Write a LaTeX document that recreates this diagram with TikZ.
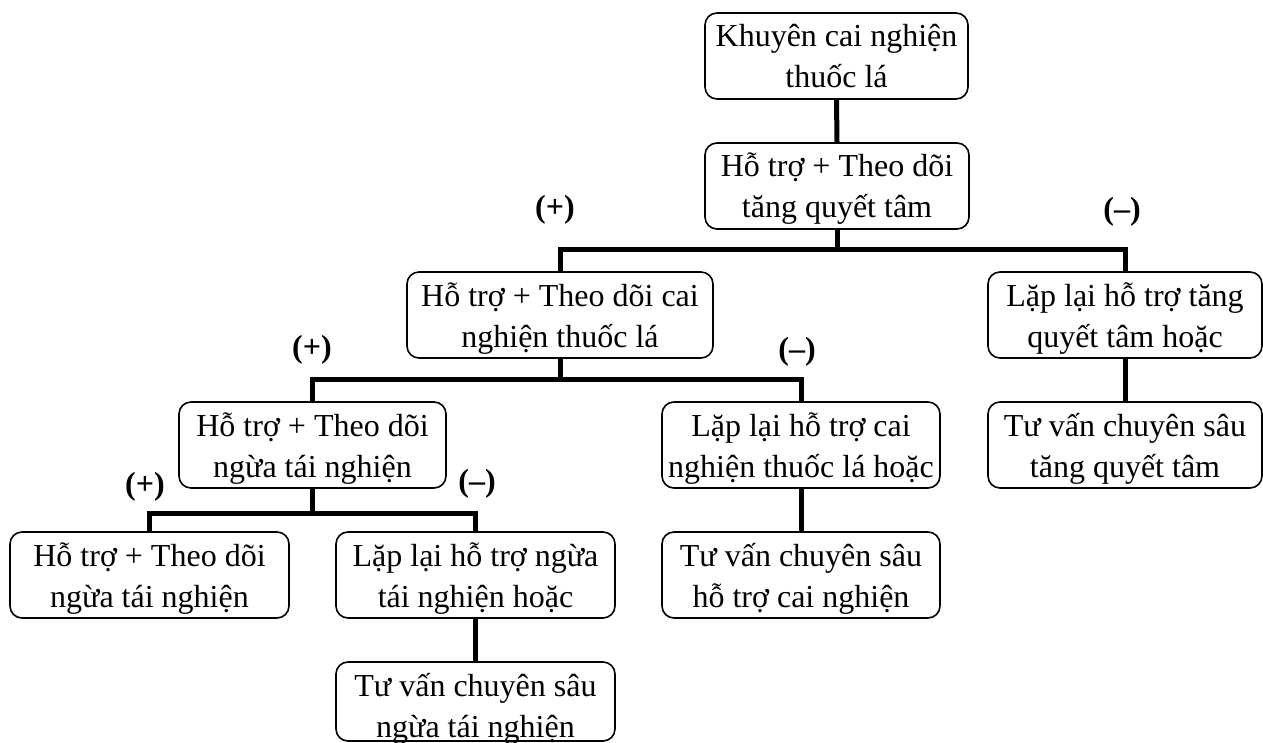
\documentclass[tikz,border=0pt]{standalone}
\usepackage{fontspec}
\setmainfont{Liberation Serif}
\newcommand\twoline[2]{\vtop{\baselineskip=41pt\lineskiplimit=0pt\halign{\hfil##\hfil\cr#1\cr#2\cr}}}
\begin{document}
\begin{tikzpicture}[x=1pt,y=-1pt,
  box/.style={draw, line width=1.6pt, rounded corners=12pt, inner xsep=0pt, inner ysep=0pt,
    minimum height=86pt, text height=34pt, text depth=52pt,
    font=\fontsize{32pt}{41pt}\selectfont},
  conn/.style={line width=5pt, line join=miter},
  sign/.style={inner sep=0pt, font=\fontsize{32pt}{41pt}\selectfont\bfseries}]
\useasboundingbox (0,0) rectangle (1263,743);
% boxes
\node[box, minimum width=263pt] (B1) at (836.5,56) {\twoline{Khuyên cai nghiện}{thuốc lá}};
\node[box, minimum width=264pt] (B2) at (837,186) {\twoline{Hỗ trợ + Theo dõi}{tăng quyết tâm}};
\node[box, minimum width=306pt] (B3) at (560,315) {\twoline{Hỗ trợ + Theo dõi cai}{nghiện thuốc lá}};
\node[box, minimum width=274pt] (B4) at (1125,315) {\twoline{Lặp lại hỗ trợ tăng}{quyết tâm hoặc}};
\node[box, minimum width=274pt] (B5) at (1125,445) {\twoline{Tư vấn chuyên sâu}{tăng quyết tâm}};
\node[box, minimum width=267pt] (B6) at (312.5,445) {\twoline{Hỗ trợ + Theo dõi}{ngừa tái nghiện}};
\node[box, minimum width=278pt] (B7) at (801,445) {\twoline{Lặp lại hỗ trợ cai}{nghiện thuốc lá hoặc}};
\node[box, minimum width=279pt] (B8) at (149.5,575) {\twoline{Hỗ trợ + Theo dõi}{ngừa tái nghiện}};
\node[box, minimum width=279pt] (B9) at (475.5,575) {\twoline{Lặp lại hỗ trợ ngừa}{tái nghiện hoặc}};
\node[box, minimum width=278pt] (B11) at (801,575) {\twoline{Tư vấn chuyên sâu}{hỗ trợ cai nghiện}};
\node[box, minimum width=279pt, minimum height=79pt, text depth=45pt] (B10) at (475.5,701.5) {\twoline{Tư vấn chuyên sâu}{ngừa tái nghiện}};
% junctions
\coordinate (j1) at (837,250);
\coordinate (j2) at (560,379);
\coordinate (j3) at (312.5,513);
% connectors
\draw[conn] (B1.south) -- (B2.north);
\draw[conn] (B2.south) -- (j1);
\draw[conn] (B3.north) |- (j1) -| (B4.north);
\draw[conn] (B4.south) -- (B5.north);
\draw[conn] (B3.south) -- (j2);
\draw[conn] (B6.north) |- (j2) -| (B7.north);
\draw[conn] (B7.south) -- (B11.north);
\draw[conn] (B6.south) -- (j3);
\draw[conn] (B8.north) |- (j3) -| (B9.north);
\draw[conn] (B9.south) -- (B10.north);
% signs
\node[sign] (s1) at (555,210) {(+)};
\node[sign] (s2) at (1122,212) {(–)};
\node[sign] (s3) at (312,350) {(+)};
\node[sign] (s4) at (797,352) {(–)};
\node[sign] (s5) at (145,487) {(+)};
\node[sign] (s6) at (477,484) {(–)};
\end{tikzpicture}
\end{document}
